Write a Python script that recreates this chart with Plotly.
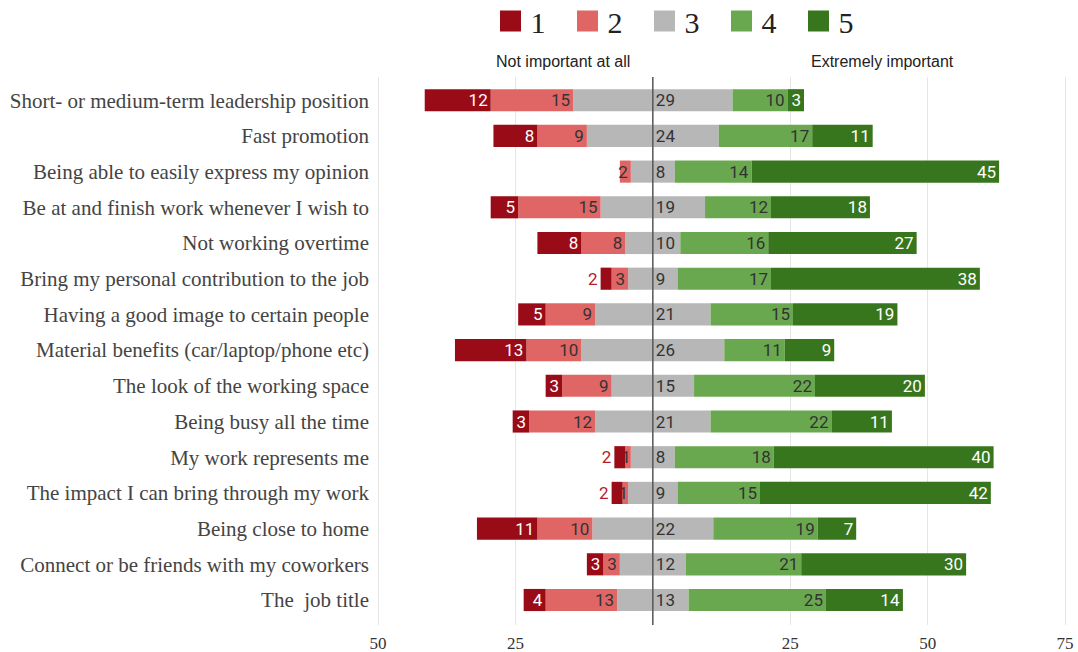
import plotly.graph_objects as go

categories = [
    "Short- or medium-term leadership position",
    "Fast promotion",
    "Being able to easily express my opinion",
    "Be at and finish work whenever I wish to",
    "Not working overtime",
    "Bring my personal contribution to the job",
    "Having a good image to certain people",
    "Material benefits (car/laptop/phone etc)",
    "The look of the working space",
    "Being busy all the time",
    "My work represents me",
    "The impact I can bring through my work",
    "Being close to home",
    "Connect or be friends with my coworkers",
    "The  job title",
]
r1 = [12, 8, 0, 5, 8, 2, 5, 13, 3, 3, 2, 2, 11, 3, 4]
r2 = [15, 9, 2, 15, 8, 3, 9, 10, 9, 12, 1, 1, 10, 3, 13]
r3 = [29, 24, 8, 19, 10, 9, 21, 26, 15, 21, 8, 9, 22, 12, 13]
r4 = [10, 17, 14, 12, 16, 17, 15, 11, 22, 22, 18, 15, 19, 21, 25]
r5 = [3, 11, 45, 18, 27, 38, 19, 9, 20, 11, 40, 42, 7, 30, 14]

legend_names = ["1", "2", "3", "4", "5"]
tick_vals = [-50, -25, 25, 50, 75]
tick_text = ["50", "25", "25", "50", "75"]

colors = ["#990b17", "#e06666", "#b7b7b7", "#6aa84f", "#38761d"]
DARK = "#333333"
WHITE = "#ffffff"

half3 = [v / 2 for v in r3]

def lab(vals):
    return [str(v) if v else "" for v in vals]

bar_font = "Roboto"
FS = 17
bw = 0.62
fig = go.Figure()

common = dict(orientation="h", width=bw, showlegend=False, hoverinfo="skip", textangle=0,
              cliponaxis=False)

# neutral left half (no text)
fig.add_trace(go.Bar(y=categories, x=[-h for h in half3], base=[0] * len(r3),
                     marker=dict(color=colors[2], line=dict(width=0)), **common))
# neutral right half with label
fig.add_trace(go.Bar(y=categories, x=half3, base=[0] * len(r3),
                     marker=dict(color=colors[2], line=dict(width=0)),
                     text=lab(r3), textposition="inside", insidetextanchor="start",
                     textfont=dict(family=bar_font, size=FS, color=DARK), **common))
# category 2
fig.add_trace(go.Bar(y=categories, x=[-v for v in r2], base=[-h for h in half3],
                     marker=dict(color=colors[1], line=dict(width=0)),
                     text=lab(r2), textposition="inside", insidetextanchor="start",
                     textfont=dict(family=bar_font, size=FS, color=DARK), **common))
# category 1
fig.add_trace(go.Bar(y=categories, x=[-v for v in r1], base=[-(h + b) for h, b in zip(half3, r2)],
                     marker=dict(color=colors[0], line=dict(width=0)),
                     text=lab(r1), textposition="auto", insidetextanchor="start",
                     insidetextfont=dict(family=bar_font, size=FS, color=WHITE),
                     outsidetextfont=dict(family=bar_font, size=FS, color="#b3202a"), **common))
# category 4
fig.add_trace(go.Bar(y=categories, x=r4, base=half3,
                     marker=dict(color=colors[3], line=dict(width=0)),
                     text=lab(r4), textposition="inside", insidetextanchor="end",
                     textfont=dict(family=bar_font, size=FS, color=DARK), **common))
# category 5
fig.add_trace(go.Bar(y=categories, x=r5, base=[h + d for h, d in zip(half3, r4)],
                     marker=dict(color=colors[4], line=dict(width=0)),
                     text=lab(r5), textposition="inside", insidetextanchor="end",
                     textfont=dict(family=bar_font, size=FS, color=WHITE), **common))

# legend entries
for name, c in zip(legend_names, colors):
    fig.add_trace(go.Scatter(x=[None], y=[None], mode="markers", name=name,
                             marker=dict(symbol="square", size=16, color=c,
                                         line=dict(color=c, width=5))))

fig.add_shape(type="line", x0=0, x1=0, xref="x", y0=0, y1=1, yref="paper",
              line=dict(color="#555555", width=1.5))

W, H = 1078, 652
L, R, T, B = 374, 1070, 77, 625
PH = B - T
fig.add_annotation(text="Not important at all", x=(563 - L) / (R - L), xref="paper", xanchor="center",
                   y=1 + 15 / PH, yref="paper", yanchor="middle", showarrow=False,
                   font=dict(family="Liberation Sans", size=16, color="#222222"))
fig.add_annotation(text="Extremely important", x=(882 - L) / (R - L), xref="paper", xanchor="center",
                   y=1 + 15 / PH, yref="paper", yanchor="middle", showarrow=False,
                   font=dict(family="Liberation Sans", size=16, color="#222222"))

fig.update_layout(
    width=W, height=H,
    margin=dict(l=L, r=W - R, t=T, b=H - B, autoexpand=False),
    barmode="overlay",
    plot_bgcolor="white", paper_bgcolor="white",
    uniformtext=dict(minsize=FS, mode="show"),
    legend=dict(orientation="h", yref="paper", x=(683 - L) / (R - L), xanchor="center",
                y=(B + 5) / PH, yanchor="top", entrywidth=32, itemwidth=30,
                font=dict(family="Liberation Serif", size=30, color="#222222")),
    xaxis=dict(range=[-50.73, 75.9], tickvals=tick_vals, ticktext=tick_text, automargin=False,
               showgrid=True, gridcolor="#e6e6e6", zeroline=False, showline=False,
               ticklabelstandoff=6,
               tickfont=dict(family="Liberation Serif", size=17, color="#333333"), fixedrange=True),
    yaxis=dict(range=[14.7, -0.65], showgrid=False, zeroline=False, showline=False, automargin=False,
               tickfont=dict(family="Liberation Serif", size=21, color="#444444"), ticklabelstandoff=4),
)

fig.write_html("out.html",
               config={"displayModeBar": False},
               post_script="document.body.style.margin='0';"
                           "document.documentElement.style.overflow='hidden';")
